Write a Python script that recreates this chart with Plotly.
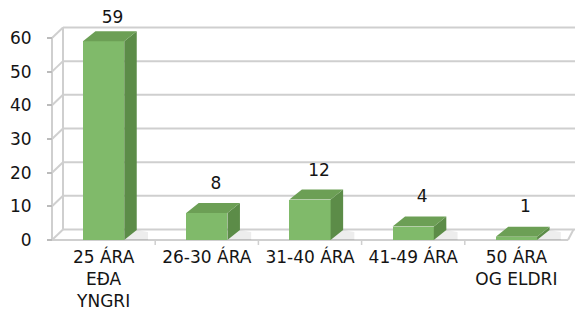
import plotly.graph_objects as go

# ---- data ----
categories = ["25 ÁRA<br>EÐA<br>YNGRI", "26-30 ÁRA", "31-40 ÁRA", "41-49 ÁRA", "50 ÁRA<br>OG ELDRI"]
values = [59, 8, 12, 4, 1]
y_ticks = [0, 10, 20, 30, 40, 50, 60]

# ---- geometry / style constants ----
PAGE_OFF = 8          # default body margin of the html page
W, H = 583 - PAGE_OFF, 311 - PAGE_OFF
PX_X = 103.2          # pixels per category
PX_Y = 3.367          # pixels per unit value
L, R, T, B = 52 - PAGE_OFF - 4, 0, 0, 66
X0_PX = 4             # data x=0 sits 4px right of plot-area left edge
Y0_PX = 240 - PAGE_OFF  # pixel row of value 0 inside the figure
plot_w = W - L - R
plot_h = H - T - B
xr = [-X0_PX / PX_X, (plot_w - X0_PX) / PX_X]
yr = [-(plot_h - Y0_PX) / PX_Y, Y0_PX / PX_Y]

DXW, DYW = 11 / PX_X, 10.5 / PX_Y      # wall depth
DXB, DYB = 12.5 / PX_X, 10 / PX_Y      # bar depth
BAR_W = 0.4
N = len(categories)
ymax = max(y_ticks)

FRONT = "#80BA6A"
SIDE = "#5C8C48"
TOP = "#6C9F55"
GRID = "#CFCFCF"
FONT = "DejaVu Sans"
TXT = "#141414"
FS = 17

fig = go.Figure()
shapes = []

def line(x0, y0, x1, y1, color=GRID, width=2):
    shapes.append(dict(type="line", xref="x", yref="y", x0=x0, y0=y0, x1=x1, y1=y1,
                       line=dict(color=color, width=width), layer="below"))

# back wall gridlines with left-wall diagonals
for v in y_ticks:
    line(0, v, DXW, v + DYW)
    line(DXW, v + DYW, N + DXW + 0.1, v + DYW)
# left wall verticals
line(0, 0, 0, ymax)
line(DXW, DYW, DXW, ymax + DYW)
# floor front edge and right diagonal
line(0, 0, N, 0)
line(N, 0, N + DXW * 0.5, DYW)
# category boundary ticks on floor front edge
for i in range(1, N):
    line(i, 0, i, -5 / PX_Y, width=1.5)

# shadows on floor
for i, v in enumerate(values):
    xright = i + 0.5 + BAR_W / 2
    path = (f"M {xright},{0} L {xright + DXB * 1.9},{0} "
            f"L {xright + DXB * 1.9},{DYB * 0.8} L {xright + DXB},{DYB} Z")
    shapes.append(dict(type="path", xref="x", yref="y", path=path,
                       fillcolor="rgba(0,0,0,0.07)", line=dict(width=0), layer="below"))

xc = [i + 0.5 for i in range(N)]

# front faces
fig.add_trace(go.Bar(x=xc, y=values, width=BAR_W, marker=dict(color=FRONT, line=dict(width=0)),
                     hoverinfo="skip", showlegend=False))

# top and side faces
for i, v in enumerate(values):
    xl = xc[i] - BAR_W / 2
    xrr = xc[i] + BAR_W / 2
    fig.add_trace(go.Scatter(
        x=[xrr, xrr + DXB, xrr + DXB, xrr, xrr],
        y=[0, DYB, v + DYB, v, 0],
        fill="toself", fillcolor=SIDE, mode="lines", line=dict(width=0, color=SIDE),
        hoverinfo="skip", showlegend=False))
    fig.add_trace(go.Scatter(
        x=[xl, xrr, xrr + DXB, xl + DXB, xl],
        y=[v, v, v + DYB, v + DYB, v],
        fill="toself", fillcolor=TOP, mode="lines", line=dict(width=0, color=TOP),
        hoverinfo="skip", showlegend=False))

# data labels (perspective: label gap shrinks slightly for taller bars)
fig.add_trace(go.Scatter(
    x=[x + 9 / PX_X for x in xc], y=[v + (29 - 0.1 * v) / PX_Y for v in values],
    mode="text", text=[str(v) for v in values], textposition="middle center",
    textfont=dict(family=FONT, size=FS, color=TXT),
    hoverinfo="skip", showlegend=False, cliponaxis=False))

fig.update_layout(
    width=W, height=H,
    margin=dict(l=L, r=R, t=T, b=B, pad=0, autoexpand=False),
    paper_bgcolor="white", plot_bgcolor="white",
    shapes=shapes,
    bargap=0,
    xaxis=dict(range=xr, tickvals=xc, ticktext=categories, showgrid=False, zeroline=False,
               showline=False, ticks="", automargin=False, ticklabelstandoff=0,
               tickfont=dict(family=FONT, size=FS, color=TXT), fixedrange=True),
    yaxis=dict(range=yr, tickvals=y_ticks, showgrid=False, zeroline=False, showline=False,
               anchor="free", position=X0_PX / plot_w, automargin=False,
               ticks="outside", ticklen=5, tickcolor="#BBBBBB", tickwidth=1.5,
               ticklabelstandoff=12,
               tickfont=dict(family=FONT, size=FS, color=TXT), fixedrange=True),
)

fig.write_html("out.html")
